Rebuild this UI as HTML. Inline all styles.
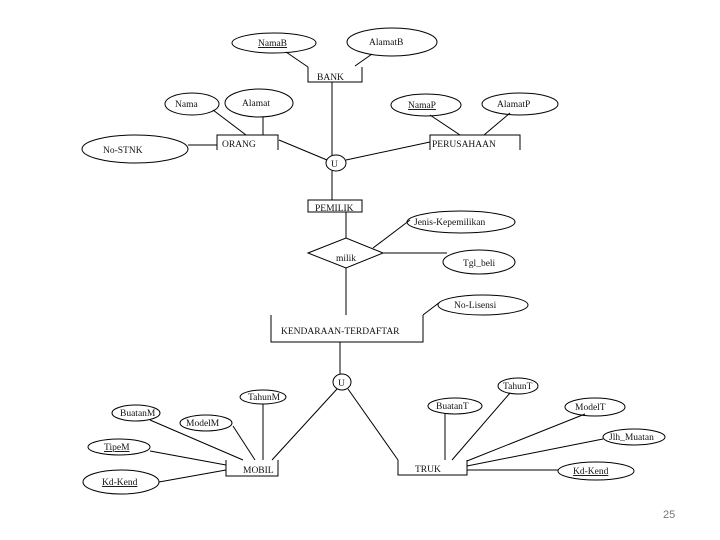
<!DOCTYPE html>
<html><head><meta charset="utf-8"><style>
html,body{margin:0;padding:0;background:#fff;width:720px;height:540px;overflow:hidden}
svg{display:block}
text{font-family:"Liberation Serif",serif;font-size:9.5px;fill:#111}
</style></head><body>
<svg width="720" height="540" viewBox="0 0 720 540" xmlns="http://www.w3.org/2000/svg">
<g fill="none" stroke="#000" stroke-width="1">
<!-- top -->
<ellipse cx="274" cy="43" rx="42" ry="10"/>
<ellipse cx="392" cy="42" rx="45" ry="14"/>
<polyline points="308,67 308,82 362,82 362,67"/>
<line x1="286" y1="52" x2="308" y2="67"/>
<line x1="355" y1="66" x2="372" y2="54"/>
<line x1="332" y1="82" x2="332" y2="156"/>
<ellipse cx="336" cy="163" rx="10" ry="8"/>
<ellipse cx="192" cy="104" rx="27" ry="11"/>
<ellipse cx="259" cy="103" rx="34" ry="14"/>
<polyline points="217,150 217,135 278,135 278,150"/>
<line x1="213" y1="110" x2="246" y2="135"/>
<line x1="263" y1="117" x2="263" y2="135"/>
<ellipse cx="135" cy="149" rx="53" ry="14"/>
<line x1="188" y1="145" x2="217" y2="145"/>
<line x1="279" y1="140" x2="327" y2="160"/>
<polyline points="430,150 430,135 520,135 520,150"/>
<line x1="430" y1="142" x2="346" y2="160"/>
<ellipse cx="426" cy="105" rx="35" ry="11"/>
<ellipse cx="520" cy="104" rx="38" ry="11"/>
<line x1="430" y1="115" x2="460" y2="135"/>
<line x1="510" y1="113" x2="484" y2="135"/>
<line x1="332" y1="171" x2="332" y2="200"/>
<!-- middle -->
<rect x="308" y="200" width="54" height="12"/>
<line x1="346" y1="212" x2="346" y2="238"/>
<polygon points="308,253 346,238 383,253 346,268"/>
<ellipse cx="461" cy="222" rx="54" ry="11"/>
<line x1="373" y1="248" x2="410" y2="220"/>
<ellipse cx="479" cy="262" rx="36" ry="12"/>
<line x1="383" y1="253" x2="447" y2="253"/>
<line x1="346" y1="268" x2="346" y2="315"/>
<polyline points="271,315 271,342 423,342 423,315"/>
<line x1="423" y1="315" x2="440" y2="302"/>
<ellipse cx="483" cy="305" rx="45" ry="10"/>
<line x1="340" y1="342" x2="340" y2="374"/>
<ellipse cx="342" cy="382" rx="9" ry="8"/>
<!-- mobil -->
<polyline points="226,460 226,476 278,476 278,460"/>
<line x1="337" y1="389" x2="272" y2="460"/>
<line x1="348" y1="389" x2="398" y2="460"/>
<ellipse cx="263" cy="397" rx="23" ry="7"/>
<line x1="263" y1="404" x2="263" y2="460"/>
<ellipse cx="206" cy="423" rx="26" ry="8"/>
<line x1="233" y1="426" x2="255" y2="460"/>
<ellipse cx="136" cy="413" rx="24" ry="8"/>
<line x1="150" y1="420" x2="243" y2="460"/>
<ellipse cx="119" cy="447" rx="31" ry="8"/>
<line x1="150" y1="451" x2="226" y2="465"/>
<ellipse cx="121" cy="482" rx="38" ry="12"/>
<line x1="159" y1="482" x2="226" y2="470"/>
<!-- truk -->
<polyline points="398,460 398,475 467,475 467,460"/>
<ellipse cx="455" cy="406" rx="27" ry="8"/>
<line x1="445" y1="413" x2="445" y2="460"/>
<ellipse cx="518" cy="386" rx="20" ry="8"/>
<line x1="510" y1="393" x2="452" y2="460"/>
<ellipse cx="595" cy="407" rx="30" ry="9"/>
<line x1="585" y1="414" x2="467" y2="461"/>
<ellipse cx="634" cy="437" rx="31" ry="8"/>
<line x1="603" y1="439" x2="467" y2="466"/>
<ellipse cx="596" cy="471" rx="38" ry="9"/>
<line x1="467" y1="470" x2="558" y2="470"/>
</g>
<g>
<text x="258" y="46" text-decoration="underline">NamaB</text>
<text x="369" y="45">AlamatB</text>
<text x="317" y="80">BANK</text>
<text x="331" y="167" font-size="8">U</text>
<text x="175" y="107">Nama</text>
<text x="242" y="106">Alamat</text>
<text x="222" y="147">ORANG</text>
<text x="103" y="153">No-STNK</text>
<text x="432" y="147">PERUSAHAAN</text>
<text x="408" y="108" text-decoration="underline">NamaP</text>
<text x="497" y="107">AlamatP</text>
<text x="315" y="211">PEMILIK</text>
<text x="336" y="261" font-size="8.5">milik</text>
<text x="414" y="225">Jenis-Kepemilikan</text>
<text x="463" y="266">Tgl_beli</text>
<text x="454" y="308">No-Lisensi</text>
<text x="281" y="334">KENDARAAN-TERDAFTAR</text>
<text x="338" y="386" font-size="8">U</text>
<text x="243" y="473">MOBIL</text>
<text x="248" y="400">TahunM</text>
<text x="186" y="426">ModelM</text>
<text x="120" y="416">BuatanM</text>
<text x="104" y="450" text-decoration="underline">TipeM</text>
<text x="102" y="485" text-decoration="underline">Kd-Kend</text>
<text x="415" y="472">TRUK</text>
<text x="436" y="409">BuatanT</text>
<text x="503" y="389">TahunT</text>
<text x="575" y="410">ModelT</text>
<text x="609" y="440">Jlh_Muatan</text>
<text x="573" y="474" text-decoration="underline">Kd-Kend</text>
<text x="663" y="518" style="font-family:'Liberation Sans',sans-serif;font-size:11px;fill:#777">25</text>
</g>
</svg>
</body></html>
